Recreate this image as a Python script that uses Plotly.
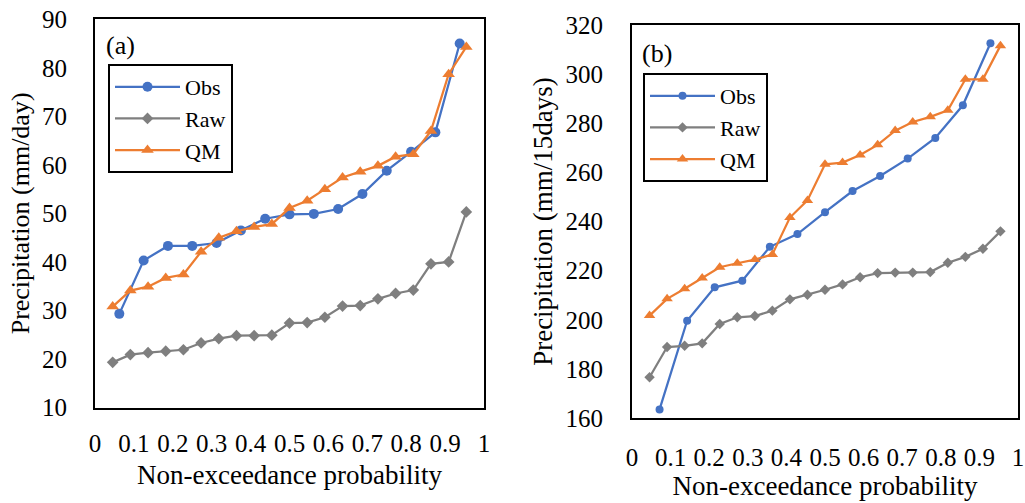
import plotly.graph_objects as go

# ---------------- data ----------------
# Panel (a): daily precipitation
obs_a_x = [i / 16 for i in range(1, 16)]
obs_a = [29.3, 40.3, 43.3, 43.3, 43.9, 46.5, 48.9, 49.8, 49.9, 50.9, 54.0, 58.8, 62.7, 66.7, 85.0]
sim_a_x = [i / 22 for i in range(1, 22)]
raw_a = [19.3, 20.9, 21.3, 21.6, 21.9, 23.3, 24.2, 24.8, 24.8, 24.9, 27.4, 27.5, 28.6, 30.9,
         31.0, 32.4, 33.5, 34.2, 39.6, 40.0, 50.3]
qm_a = [30.8, 34.1, 34.9, 36.7, 37.4, 42.1, 45.0, 46.3, 47.2, 47.8, 51.1, 52.6, 55.0, 57.4,
        58.6, 59.8, 61.7, 62.2, 67.0, 78.7, 84.3]

# Panel (b): 15-day precipitation
obs_b_x = [i / 14 for i in range(1, 14)]
obs_b = [163.5, 199.6, 213.2, 215.9, 229.7, 234.9, 243.8, 252.4, 258.5, 265.6, 274.0, 287.3, 312.6]
sim_b_x = [i / 22 for i in range(1, 22)]
raw_b = [176.6, 188.9, 189.4, 190.4, 198.3, 201.0, 201.5, 203.7, 208.3, 210.2, 212.2, 214.4,
         217.3, 219.0, 219.2, 219.2, 219.4, 223.2, 225.6, 228.9, 236.0]
qm_b = [201.7, 208.5, 212.6, 217.0, 221.4, 223.0, 224.5, 226.6, 241.6, 248.6, 263.3, 264.0,
        267.1, 271.2, 277.0, 280.5, 282.6, 285.3, 297.9, 297.9, 311.6]

x_tickvals = [0, 0.1, 0.2, 0.3, 0.4, 0.5, 0.6, 0.7, 0.8, 0.9, 1.0]
x_ticktext = ["0", "0.1", "0.2", "0.3", "0.4", "0.5", "0.6", "0.7", "0.8", "0.9", "1"]
y_a_ticks = [10, 20, 30, 40, 50, 60, 70, 80, 90]
y_b_ticks = [160, 180, 200, 220, 240, 260, 280, 300, 320]

# ---------------- style ----------------
FONT = "Liberation Serif, Times New Roman, serif"
BLUE = "#4472C4"
GRAY = "#7F7F7F"
ORANGE = "#ED7D31"
W, H = 1025, 503

fig = go.Figure()

def add_panel(xaxis, yaxis, legend, ox, o, sx, r, q, msz):
    fig.add_trace(go.Scatter(x=ox, y=o, name="Obs", mode="lines+markers",
                             line=dict(color=BLUE, width=2.25),
                             marker=dict(symbol="circle", size=msz[0], color=BLUE),
                             xaxis=xaxis, yaxis=yaxis, legend=legend))
    fig.add_trace(go.Scatter(x=sx, y=r, name="Raw", mode="lines+markers",
                             line=dict(color=GRAY, width=2.25),
                             marker=dict(symbol="diamond", size=msz[1], color=GRAY),
                             xaxis=xaxis, yaxis=yaxis, legend=legend))
    fig.add_trace(go.Scatter(x=sx, y=q, name="QM", mode="lines+markers",
                             line=dict(color=ORANGE, width=2.25),
                             marker=dict(symbol="triangle-up", size=msz[2], color=ORANGE),
                             xaxis=xaxis, yaxis=yaxis, legend=legend))

add_panel("x", "y", "legend", obs_a_x, obs_a, sim_a_x, raw_a, qm_a, (10, 9, 11))
add_panel("x2", "y2", "legend2", obs_b_x, obs_b, sim_b_x, raw_b, qm_b, (8, 8, 10))

def px_x(p):
    return p / W

def px_y(p):
    return 1 - p / H

axis_common = dict(showline=True, mirror=True, linecolor="black", linewidth=2,
                   showgrid=False, zeroline=False, ticks="", automargin=False,
                   tickfont=dict(family=FONT, size=25, color="black"))

fig.update_layout(
    width=W, height=H,
    margin=dict(l=0, r=0, t=0, b=0),
    paper_bgcolor="white", plot_bgcolor="white",
    font=dict(family=FONT, size=24, color="black"),
    xaxis=dict(domain=[px_x(95), px_x(484)], range=[0, 1], anchor="y",
               tickvals=x_tickvals, ticktext=x_ticktext, ticklabelstandoff=12,
               title=dict(text="Non-exceedance probability", standoff=10,
                          font=dict(family=FONT, size=27)),
               **axis_common),
    yaxis=dict(domain=[px_y(407.5), px_y(19.3)], range=[10, 90], anchor="x",
               tickvals=y_a_ticks, ticklabelstandoff=21,
               title=dict(text="Precipitation (mm/day)", standoff=5,
                          font=dict(family=FONT, size=26)),
               **axis_common),
    xaxis2=dict(domain=[px_x(632), px_x(1018)], range=[0, 1], anchor="y2",
                tickvals=x_tickvals, ticktext=x_ticktext, ticklabelstandoff=16,
                title=dict(text="Non-exceedance probability", standoff=6,
                           font=dict(family=FONT, size=27)),
                **axis_common),
    yaxis2=dict(domain=[px_y(418), px_y(25)], range=[160, 320], anchor="x2",
                tickvals=y_b_ticks, ticklabelstandoff=22,
                title=dict(text="Precipitation (mm/15days)", standoff=5,
                           font=dict(family=FONT, size=27)),
                **axis_common),
    legend=dict(x=px_x(108), y=px_y(64), xanchor="left", yanchor="top",
                bgcolor="white", bordercolor="black", borderwidth=2,
                font=dict(family=FONT, size=22), tracegroupgap=0, itemwidth=65),
    legend2=dict(x=px_x(643), y=px_y(73), xanchor="left", yanchor="top",
                 bgcolor="white", bordercolor="black", borderwidth=2,
                 font=dict(family=FONT, size=22), tracegroupgap=0, itemwidth=65),
    annotations=[
        dict(text="(a)", x=px_x(104), y=px_y(45), xref="paper", yref="paper",
             xanchor="left", yanchor="middle", showarrow=False,
             font=dict(family=FONT, size=26)),
        dict(text="(b)", x=px_x(640), y=px_y(53), xref="paper", yref="paper",
             xanchor="left", yanchor="middle", showarrow=False,
             font=dict(family=FONT, size=26)),
    ],
)

fig.write_html("out.html")
